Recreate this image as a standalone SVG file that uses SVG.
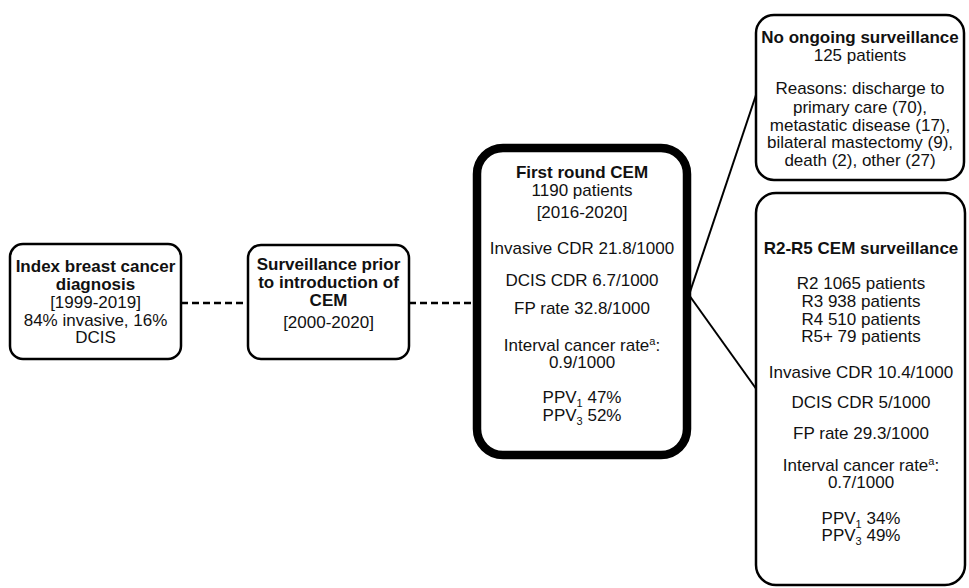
<svg xmlns="http://www.w3.org/2000/svg" width="969" height="588" viewBox="0 0 969 588">
  <style>
    .box { fill: #fff; stroke: #000; stroke-width: 2.5; }
    .thick { fill: #fff; stroke: #000; stroke-width: 8.5; }
    text { font-family: "Liberation Sans", Arial, sans-serif; font-size: 17px; fill: #111; text-anchor: middle; }
    .b { font-weight: bold; }
    .dash { stroke: #000; stroke-width: 2.5; stroke-dasharray: 7 4; fill: none; }
    .line { stroke: #000; stroke-width: 2; fill: none; }
    .sub { font-size: 11px; }
  </style>
  <rect width="969" height="588" fill="#fff"/>

  <g id="connectors">
    <line class="dash" x1="181" y1="303" x2="248" y2="303"/>
    <line class="dash" x1="409" y1="303" x2="473" y2="303"/>
    <line class="line" x1="689" y1="295" x2="757" y2="92"/>
    <line class="line" x1="689" y1="295" x2="757" y2="390"/>
  </g>

  <g id="index-diagnosis">
    <rect class="box" x="10" y="244" width="171" height="115" rx="13"/>
    <text x="95.5" y="272" class="b">Index breast cancer</text>
    <text x="95.5" y="290" class="b">diagnosis</text>
    <text x="95.5" y="308">[1999-2019]</text>
    <text x="95.5" y="326">84% invasive, 16%</text>
    <text x="95.5" y="343">DCIS</text>
  </g>

  <g id="prior-surveillance">
    <rect class="box" x="248" y="245" width="161" height="114" rx="13"/>
    <text x="328.5" y="270" class="b">Surveillance prior</text>
    <text x="328.5" y="288" class="b">to introduction of</text>
    <text x="328.5" y="306" class="b">CEM</text>
    <text x="328.5" y="328">[2000-2020]</text>
  </g>

  <g id="first-round">
    <rect class="thick" x="477" y="148" width="210" height="307" rx="26"/>
    <text x="582" y="178" class="b">First round CEM</text>
    <text x="582" y="196">1190 patients</text>
    <text x="582" y="218">[2016-2020]</text>
    <text x="582" y="254">Invasive CDR 21.8/1000</text>
    <text x="582" y="286">DCIS CDR 6.7/1000</text>
    <text x="582" y="314">FP rate 32.8/1000</text>
    <text x="582" y="351">Interval cancer rate<tspan class="sub" dy="-6">a</tspan><tspan dy="6">:</tspan></text>
    <text x="582" y="368">0.9/1000</text>
    <text x="582" y="403">PPV<tspan class="sub" dy="4">1</tspan><tspan dy="-4"> 47%</tspan></text>
    <text x="582" y="421">PPV<tspan class="sub" dy="4">3</tspan><tspan dy="-4"> 52%</tspan></text>
  </g>

  <g id="no-surveillance">
    <rect class="box" x="756" y="15" width="208" height="165" rx="18"/>
    <text x="860" y="43" class="b">No ongoing surveillance</text>
    <text x="860" y="61">125 patients</text>
    <text x="860" y="94">Reasons: discharge to</text>
    <text x="860" y="113">primary care (70),</text>
    <text x="860" y="131">metastatic disease (17),</text>
    <text x="860" y="148">bilateral mastectomy (9),</text>
    <text x="860" y="166">death (2), other (27)</text>
  </g>

  <g id="r2-r5">
    <rect class="box" x="756" y="193" width="209" height="392" rx="20"/>
    <text x="861" y="254" class="b">R2-R5 CEM surveillance</text>
    <text x="861" y="289">R2 1065 patients</text>
    <text x="861" y="307">R3 938 patients</text>
    <text x="861" y="325">R4 510 patients</text>
    <text x="861" y="342">R5+ 79 patients</text>
    <text x="861" y="378">Invasive CDR 10.4/1000</text>
    <text x="861" y="408">DCIS CDR 5/1000</text>
    <text x="861" y="439">FP rate 29.3/1000</text>
    <text x="861" y="471">Interval cancer rate<tspan class="sub" dy="-6">a</tspan><tspan dy="6">:</tspan></text>
    <text x="861" y="488">0.7/1000</text>
    <text x="861" y="524">PPV<tspan class="sub" dy="4">1</tspan><tspan dy="-4"> 34%</tspan></text>
    <text x="861" y="541">PPV<tspan class="sub" dy="4">3</tspan><tspan dy="-4"> 49%</tspan></text>
  </g>
</svg>
